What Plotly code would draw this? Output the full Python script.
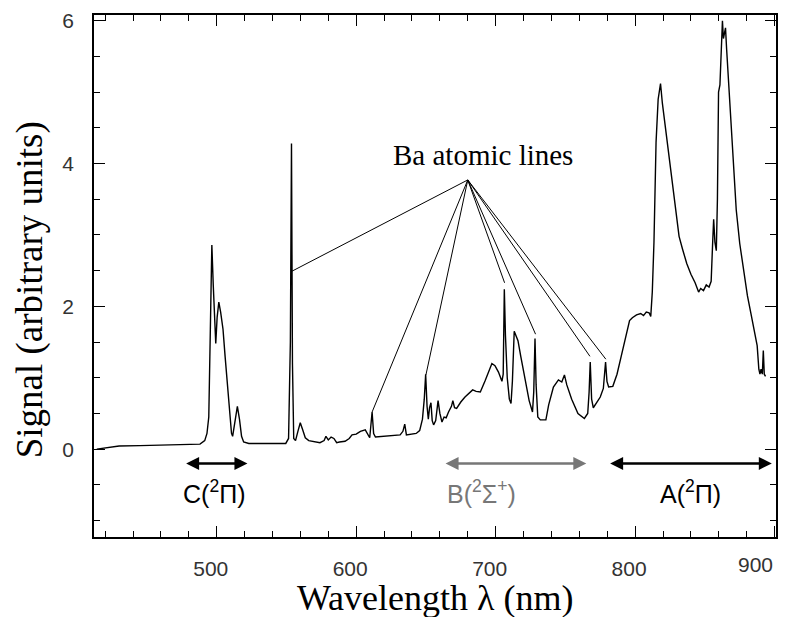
import plotly.graph_objects as go

# ---- data ----
wavelength = [414, 420, 430, 445, 466, 480, 488, 491.4, 493, 494.3, 495.3, 496.5, 497.5, 498.5, 499.3,
              500.3, 501.5, 502.8, 504.5, 506, 507.5, 509.3, 510.6, 511.4, 512.9, 514.8, 516.3, 517.8,
              519.3, 523, 535, 549.5, 551.5, 552.8, 553.6, 554.3, 555.2, 556.5, 558.2, 559.9, 561.5,
              563.5, 566, 570, 574, 577, 578.3, 580, 582, 584, 586, 588, 592, 595, 597, 600, 603, 606.5,
              608.5, 609.7, 611.4, 612.5, 613.8, 620, 627, 631.5, 633.5, 634.8, 636, 640, 643, 645.5,
              647.5, 648.8, 649.8, 650.8, 651.7, 652.6, 653.6, 654.5, 655.5, 657, 658.7, 660, 661.5,
              663, 664.5, 666.2, 668.3, 669.3, 670.5, 672, 675, 678, 681, 683.5, 686, 689, 692.5, 695,
              697.3, 699.5, 702, 704.5, 705.4, 706.2, 707, 708.3, 709.8, 711, 712, 713.3, 714.5, 716,
              718, 720, 722, 724, 726.4, 727.3, 728.2, 729, 730.2, 732, 736, 738, 741.4, 745, 747.4,
              749.3, 751, 754.5, 759, 763.6, 766, 767, 767.8, 768.8, 770, 772, 775, 777.2, 778, 778.8,
              779.8, 781, 784, 787, 790, 793.5, 796, 798, 801, 804, 806, 808, 810, 811.2, 812.3, 813.5,
              815, 816.5, 818.2, 819.5, 821.5, 823.5, 825.5, 828, 830, 831.5, 834, 837, 840, 843, 845.5,
              847, 849, 851, 853, 854.5, 855.5, 856.3, 857.2, 858.2, 859, 859.8, 860.8, 861.8, 862.6,
              863.3, 864, 864.8, 865.6, 867, 868.5, 870.5, 872.5, 875, 878, 880.5, 883, 885.5, 887.5,
              888.7, 889.5, 890.3, 891.2, 891.9, 892.6, 893.5]
signal = [0.00, 0.02, 0.045, 0.05, 0.06, 0.065, 0.07, 0.12, 0.22, 0.45, 1.6, 2.86, 2.3, 1.7, 1.48,
          1.85, 2.06, 1.92, 1.68, 1.3, 0.95, 0.55, 0.22, 0.18, 0.36, 0.60, 0.42, 0.18,
          0.10, 0.08, 0.08, 0.08, 0.15, 1.5, 4.28, 1.2, 0.15, 0.12, 0.25, 0.37, 0.28,
          0.16, 0.12, 0.10, 0.09, 0.12, 0.18, 0.13, 0.17, 0.15, 0.09, 0.10, 0.11, 0.15, 0.20, 0.21, 0.25, 0.27,
          0.20, 0.16, 0.52, 0.22, 0.17, 0.18, 0.19, 0.20, 0.25, 0.35, 0.20, 0.21, 0.22, 0.26,
          0.42, 0.70, 1.05, 0.60, 0.42, 0.58, 0.65, 0.40, 0.34, 0.40, 0.68, 0.50, 0.38,
          0.45, 0.44, 0.52, 0.60, 0.68, 0.58, 0.57, 0.66, 0.73, 0.78, 0.83, 0.81, 0.80, 0.96, 1.08,
          1.20, 1.17, 1.08, 0.95, 1.05, 2.24, 1.6, 1.0, 0.70, 0.64, 0.95, 1.65, 1.60, 1.52,
          1.30, 1.10, 0.90, 0.68, 0.52, 0.80, 1.55, 0.90, 0.45, 0.41, 0.41, 0.62, 0.87, 0.97, 0.94,
          1.04, 0.90, 0.70, 0.50, 0.43, 0.50, 0.80, 1.22, 0.70, 0.58, 0.64, 0.73, 0.85, 1.0, 1.22,
          0.95, 0.87, 0.88, 1.05, 1.30, 1.62, 1.80, 1.84, 1.88, 1.90, 1.87, 1.92, 1.91, 1.86, 2.2, 2.9,
          4.3, 4.9, 5.12, 4.85, 4.55, 4.25, 3.95, 3.55, 3.25, 2.98, 2.80, 2.60, 2.45, 2.33, 2.20,
          2.25, 2.22, 2.30, 2.27, 2.35, 2.85, 3.22, 2.9, 2.78, 3.5, 5.0, 5.1, 5.6, 6.0,
          5.75, 5.85, 5.9, 5.6, 5.15, 4.6, 3.95, 3.35, 2.88, 2.45, 2.15, 1.90, 1.65, 1.45,
          1.12, 1.05, 1.12, 1.05, 1.38, 1.05, 1.02]

# Ba atomic line pointers: common hub and line ends
ba_hub_wavelength = 680
ba_hub_signal = 3.77
ba_line_wavelength = [553.7, 611.4, 650.0, 706.4, 728.6, 767.6, 779.0]
ba_line_signal = [2.49, 0.52, 1.04, 2.33, 1.61, 1.30, 1.26]

# electronic band ranges
band_labels = ["C(<sup>2</sup>Π)", "B(<sup>2</sup>Σ<sup>+</sup>)", "A(<sup>2</sup>Π)"]
band_start = [477, 663, 781]
band_end = [522, 765, 898]
band_label_pos = [498.5, 690, 840]
band_colors = ["#000000", "#777777", "#000000"]

x_tick_vals = [500, 600, 700, 800, 900]
x_tick_text = ["500", "600", "700", "800", ""]
y_tick_vals = [0, 2, 4, 6]
y_tick_text = ["0", "2", "4", "6"]

fig = go.Figure()
fig.add_trace(go.Scatter(x=wavelength, y=signal, mode="lines",
                         line=dict(color="black", width=1.4), showlegend=False))

# Ba atomic line pointers
for wl, s in zip(ba_line_wavelength, ba_line_signal):
    fig.add_shape(type="line", xref="x", yref="y", x0=ba_hub_wavelength, y0=ba_hub_signal,
                  x1=wl, y1=s, line=dict(color="black", width=1))

tick_font = dict(family="Liberation Sans", size=21, color="#333333")
serif = "Liberation Serif"

fig.add_annotation(x=ba_hub_wavelength, y=ba_hub_signal, xref="x", yref="y", text="Ba atomic lines",
                   showarrow=False, xanchor="center", yanchor="bottom", yshift=7, xshift=15,
                   font=dict(family=serif, size=29, color="black"))

for lab, x0, x1, xl, col in zip(band_labels, band_start, band_end, band_label_pos, band_colors):
    fig.add_annotation(x=x1, y=-0.2, ax=x0, ay=-0.2, xref="x", yref="y", axref="x", ayref="y",
                       text="", showarrow=True, arrowside="end+start", arrowhead=2,
                       arrowsize=1.0, arrowwidth=2.6, arrowcolor=col)
    fig.add_annotation(x=xl, y=-0.6, xref="x", yref="y", text=lab, showarrow=False,
                       xanchor="center", yanchor="middle",
                       font=dict(family="Liberation Sans", size=25, color=col))

# "900" label kept inside the frame
fig.add_annotation(x=900, y=0, xref="x", yref="paper", text="900", showarrow=False,
                   xanchor="right", yanchor="top", yshift=-14, font=tick_font)

# axis titles
fig.add_annotation(x=0.5, y=-0.117, xref="paper", yref="paper", text="Wavelength λ (nm)",
                   showarrow=False, xanchor="center", yanchor="middle",
                   font=dict(family=serif, size=36, color="black"))
fig.add_annotation(x=-0.0936, y=0.473, xref="paper", yref="paper", text="Signal (arbitrary units)",
                   showarrow=False, textangle=-90, xanchor="center", yanchor="middle",
                   font=dict(family=serif, size=37, color="black"))

axis_common = dict(showgrid=False, zeroline=False, showline=True, linecolor="black", linewidth=1.5,
                   mirror="allticks", ticks="inside", ticklen=11, tickwidth=1.2, tickcolor="black",
                   tickfont=tick_font)
fig.update_xaxes(range=[412, 901], tickvals=x_tick_vals, ticktext=x_tick_text,
                 ticklabelstandoff=12, ticklabelshift=-6,
                 minor=dict(dtick=20, tick0=0, ticks="inside", ticklen=6, tickcolor="black", tickwidth=1),
                 **axis_common)
fig.update_yaxes(range=[-1.23, 6.08], tickvals=y_tick_vals, ticktext=y_tick_text,
                 ticklabelstandoff=14,
                 minor=dict(dtick=0.5, tick0=0, ticks="inside", ticklen=6, tickcolor="black", tickwidth=1),
                 **axis_common)

fig.update_layout(width=786, height=617, margin=dict(l=94, r=8, t=15, b=80),
                  plot_bgcolor="white", paper_bgcolor="white", showlegend=False)

fig.write_html("out.html")
